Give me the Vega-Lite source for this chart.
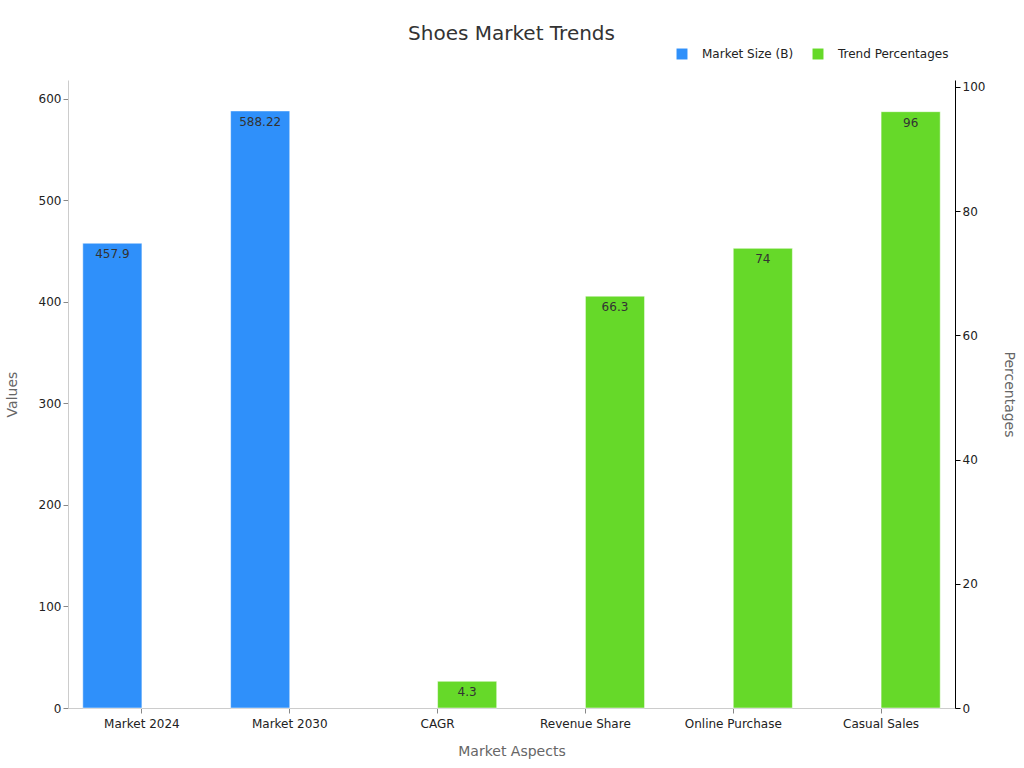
{
  "$schema": "https://vega.github.io/schema/vega-lite/v6.json",
  "width": 887,
  "height": 628,
  "autosize": {"type": "none"},
  "padding": {"left": 68, "top": 80, "right": 69, "bottom": 60},
  "background": "white",
  "title": {
    "text": "Shoes Market Trends",
    "fontSize": 20,
    "font": "DejaVu Sans",
    "fontWeight": "normal",
    "color": "#333333",
    "anchor": "middle",
    "offset": 4
  },
  "config": {
    "font": "DejaVu Sans",
    "view": {"stroke": null},
    "axis": {
      "grid": false,
      "labelFont": "DejaVu Sans",
      "labelFontSize": 12,
      "labelColor": "#222222",
      "titleFont": "DejaVu Sans",
      "titleFontSize": 14,
      "titleFontWeight": "normal",
      "titleColor": "#666666"
    }
  },
  "data": {
    "values": [
      {"aspect": "Market 2024", "series": "Market Size (B)", "value": 457.9},
      {"aspect": "Market 2030", "series": "Market Size (B)", "value": 588.22},
      {"aspect": "CAGR", "series": "Trend Percentages", "value": 4.3},
      {"aspect": "Revenue Share", "series": "Trend Percentages", "value": 66.3},
      {"aspect": "Online Purchase", "series": "Trend Percentages", "value": 74},
      {"aspect": "Casual Sales", "series": "Trend Percentages", "value": 96}
    ]
  },
  "encoding": {
    "x": {
      "field": "aspect",
      "type": "nominal",
      "sort": null,
      "scale": {"paddingInner": 0.2, "paddingOuter": 0.1},
      "axis": {
        "title": "Market Aspects",
        "labelAngle": 0,
        "labelPadding": 5,
        "domainColor": "#cccccc",
        "tickColor": "#888888",
        "titlePadding": 15
      }
    },
    "xOffset": {
      "field": "series",
      "type": "nominal",
      "scale": {"domain": ["Market Size (B)", "Trend Percentages"], "paddingInner": 0}
    },
    "color": {
      "field": "series",
      "type": "nominal",
      "scale": {"domain": ["Market Size (B)", "Trend Percentages"], "range": ["#2f90fa", "#66d929"]},
      "legend": {
        "title": null,
        "orient": "none",
        "direction": "horizontal",
        "legendX": 608,
        "legendY": -32,
        "symbolType": "square",
        "symbolSize": 120,
        "symbolStrokeWidth": 0,
        "labelFontSize": 12,
        "labelColor": "#222222",
        "labelOffset": 14,
        "columnPadding": 18
      }
    }
  },
  "layer": [
    {
      "transform": [{"filter": "datum.series == 'Market Size (B)'"}],
      "encoding": {
        "y": {
          "field": "value",
          "type": "quantitative",
          "scale": {"domain": [0, 618.7], "nice": false},
          "axis": {
            "title": "Values",
            "values": [0, 100, 200, 300, 400, 500, 600],
            "domainColor": "#cccccc",
            "tickColor": "#888888",
            "titlePadding": 19
          }
        }
      },
      "layer": [
        {"mark": {"type": "bar", "stroke": "#ffffff", "strokeOpacity": 0.5, "strokeWidth": 1}},
        {
          "mark": {"type": "text", "baseline": "top", "dy": 6, "fontSize": 12, "color": "#333333"},
          "encoding": {"text": {"field": "value", "type": "quantitative"}, "color": {"value": "#333333"}}
        }
      ]
    },
    {
      "transform": [{"filter": "datum.series == 'Trend Percentages'"}],
      "encoding": {
        "y": {
          "field": "value",
          "type": "quantitative",
          "scale": {"domain": [0, 101.1], "nice": false},
          "axis": {
            "title": "Percentages",
            "orient": "right",
            "values": [0, 20, 40, 60, 80, 100],
            "domainColor": "#000000",
            "tickColor": "#000000",
            "titlePadding": 17
          }
        }
      },
      "layer": [
        {"mark": {"type": "bar", "stroke": "#ffffff", "strokeOpacity": 0.5, "strokeWidth": 1}},
        {
          "mark": {"type": "text", "baseline": "top", "dy": 6, "fontSize": 12, "color": "#333333"},
          "encoding": {"text": {"field": "value", "type": "quantitative"}, "color": {"value": "#333333"}}
        }
      ]
    }
  ],
  "resolve": {"scale": {"y": "independent"}}
}
